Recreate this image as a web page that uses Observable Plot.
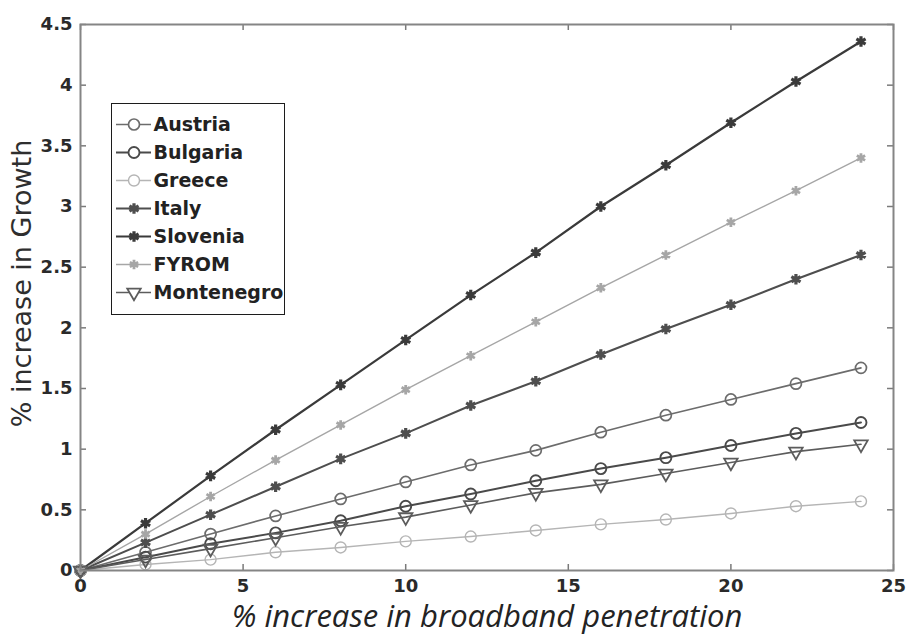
<!DOCTYPE html>
<html>
<head>
<meta charset="utf-8">
<script src="https://cdn.jsdelivr.net/npm/d3@7"></script>
<script src="https://cdn.jsdelivr.net/npm/@observablehq/plot@0.6"></script>
<style>
  body { margin: 0; background: #ffffff; }
  #chart { position: relative; width: 909px; height: 640px; }
  #legend { position: absolute; left: 111px; top: 103px; }
  #legend svg { border: 1.5px solid #1c1c1c; background: #ffffff; display: block; }
</style>
</head>
<body>
<div id="chart"><div id="legend"></div></div>
<script>
// Broadband penetration increase (%) at which growth was evaluated
const penetration = [0, 2, 4, 6, 8, 10, 12, 14, 16, 18, 20, 22, 24];

// Increase in growth (%) per country
const austria    = [0, 0.15, 0.30, 0.45, 0.59, 0.73, 0.87, 0.99, 1.14, 1.28, 1.41, 1.54, 1.67];
const bulgaria   = [0, 0.11, 0.22, 0.31, 0.41, 0.53, 0.63, 0.74, 0.84, 0.93, 1.03, 1.13, 1.22];
const greece     = [0, 0.05, 0.09, 0.15, 0.19, 0.24, 0.28, 0.33, 0.38, 0.42, 0.47, 0.53, 0.57];
const italy      = [0, 0.23, 0.46, 0.69, 0.92, 1.13, 1.36, 1.56, 1.78, 1.99, 2.19, 2.40, 2.60];
const slovenia   = [0, 0.39, 0.78, 1.16, 1.53, 1.90, 2.27, 2.62, 3.00, 3.34, 3.69, 4.03, 4.36];
const fyrom      = [0, 0.30, 0.61, 0.91, 1.20, 1.49, 1.77, 2.05, 2.33, 2.60, 2.87, 3.13, 3.40];
const montenegro = [0, 0.09, 0.18, 0.27, 0.36, 0.44, 0.54, 0.64, 0.71, 0.80, 0.89, 0.98, 1.04];

const countries = ["Austria", "Bulgaria", "Greece", "Italy", "Slovenia", "FYROM", "Montenegro"];
const growth = [austria, bulgaria, greece, italy, slovenia, fyrom, montenegro];

// Axis ticks and titles
const xTicks = [0, 5, 10, 15, 20, 25];
const yTicks = [0, 0.5, 1, 1.5, 2, 2.5, 3, 3.5, 4, 4.5];
const yTickLabels = ["0", "0.5", "1", "1.5", "2", "2.5", "3", "3.5", "4", "4.5"];
const xTitle = "% increase in broadband penetration";
const yTitle = "% increase in Growth";

// Grayscale line/marker styling, one entry per country
const seriesStyle = [
  {color: "#6c6c6c", width: 1.6, symbol: "circle",   rotate: 0,   r: 5.5, mw: 1.7},
  {color: "#4a4a4a", width: 2.0, symbol: "circle",   rotate: 0,   r: 5.5, mw: 1.9},
  {color: "#b5b5b5", width: 1.4, symbol: "circle",   rotate: 0,   r: 5.5, mw: 1.4},
  {color: "#4e4e4e", width: 2.0, symbol: "asterisk", rotate: 0,   r: 5.0, mw: 3.2},
  {color: "#3a3a3a", width: 2.2, symbol: "asterisk", rotate: 0,   r: 5.0, mw: 3.2},
  {color: "#a6a6a6", width: 1.4, symbol: "asterisk", rotate: 0,   r: 4.5, mw: 2.8},
  {color: "#5c5c5c", width: 1.6, symbol: "triangle", rotate: 180, r: 5.0, mw: 1.8}
];

const width = 909, height = 640;
const margin = {top: 24, right: 16, bottom: 70, left: 80};
const innerW = width - margin.left - margin.right;
const innerH = height - margin.top - margin.bottom;

const seriesMarks = countries.flatMap((country, i) => {
  const s = seriesStyle[i];
  const rows = penetration.map((x, j) => ({country, x, y: growth[i][j]}));
  return [
    Plot.line(rows, {x: "x", y: "y", stroke: s.color, strokeWidth: s.width}),
    Plot.dot(rows, {x: "x", y: "y", symbol: s.symbol, r: s.r, stroke: s.color,
                    strokeWidth: s.mw, fill: "none", rotate: s.rotate})
  ];
});

const chart = Plot.plot({
  width, height,
  marginTop: margin.top, marginRight: margin.right,
  marginBottom: margin.bottom, marginLeft: margin.left,
  x: {domain: [0, 25]},
  y: {domain: [0, 4.5]},
  style: {fontFamily: "'DejaVu Sans', sans-serif", fontSize: "18px", fontWeight: "bold",
          color: "#2a2a2a", background: "#ffffff"},
  marks: [
    // inward-pointing ticks on all four sides
    Plot.ruleX(xTicks, {stroke: "#7a7a7a", strokeWidth: 1.5, insetTop: innerH - 6}),
    Plot.ruleX(xTicks, {stroke: "#7a7a7a", strokeWidth: 1.5, insetBottom: innerH - 6}),
    Plot.ruleY(yTicks, {stroke: "#7a7a7a", strokeWidth: 1.5, insetRight: innerW - 6}),
    Plot.ruleY(yTicks, {stroke: "#7a7a7a", strokeWidth: 1.5, insetLeft: innerW - 6}),
    Plot.axisX(xTicks, {tickSize: 0, tickPadding: 9, label: null, tickFormat: d => String(d)}),
    Plot.axisY(yTicks, {tickSize: 0, tickPadding: 8, label: null,
                        tickFormat: d => yTickLabels[yTicks.indexOf(d)]}),
    ...seriesMarks,
    Plot.frame({stroke: "#858585", strokeWidth: 2}),
    Plot.text([yTitle], {frameAnchor: "left", textAnchor: "middle", lineAnchor: "middle",
                         dx: -58, dy: -14, rotate: -90,
                         fontFamily: "'DejaVu Sans', sans-serif", fontSize: 27,
                         fontWeight: "normal", fill: "#2e2e2e"}),
    Plot.text([xTitle], {frameAnchor: "bottom", textAnchor: "middle", lineAnchor: "middle",
                         dy: 47,
                         fontFamily: "'Open Sans', sans-serif", fontStyle: "italic",
                         fontSize: 31, fontWeight: "normal", fill: "#232323"})
  ]
});
document.getElementById("chart").prepend(chart);

// Legend: one row per country with a line-and-marker swatch
const legend = Plot.plot({
  width: 172, height: 210,
  marginTop: 18, marginBottom: 20, marginLeft: 4, marginRight: 133,
  x: {domain: [0, 1], axis: null},
  y: {type: "point", domain: countries, axis: null, padding: 0},
  style: {fontFamily: "'DejaVu Sans', sans-serif", fontSize: "19px", fontWeight: "bold",
          background: "#ffffff"},
  marks: countries.flatMap((country, i) => {
    const s = seriesStyle[i];
    return [
      Plot.ruleY([country], {y: d => d, x1: () => 0, x2: () => 1, stroke: s.color, strokeWidth: s.width}),
      Plot.dot([country], {y: d => d, x: () => 0.5, symbol: s.symbol, r: s.r, stroke: s.color,
                           strokeWidth: s.mw, fill: "#ffffff", rotate: s.rotate}),
      Plot.text([country], {y: d => d, x: () => 1, text: d => d, textAnchor: "start",
                            dx: 2, fill: "#222222"})
    ];
  })
});
document.getElementById("legend").append(legend);
</script>
</body>
</html>
